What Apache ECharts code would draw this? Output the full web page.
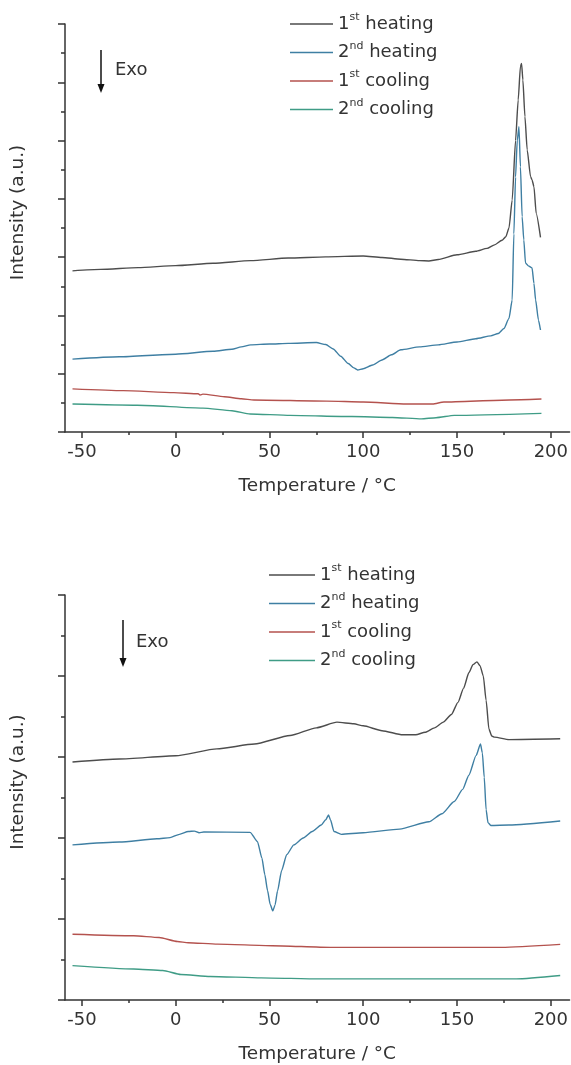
<!DOCTYPE html>
<html><head><meta charset="utf-8">
<script src="https://cdn.jsdelivr.net/npm/echarts@6/dist/echarts.min.js"></script>
<style>html,body{margin:0;padding:0;background:#fff}#c{width:571px;height:1065px}</style>
</head><body><div id="c"></div>
<script>
const seriesNames = ['1st heating', '2nd heating', '1st cooling', '2nd cooling'];
const seriesColors = ['#4d4d4d', '#3f7fa3', '#b4524e', '#3f9c86'];
const tempTicks = [-50, 0, 50, 100, 150, 200];
const tempMinorTicks = [-25, 25, 75, 125, 175];
const topMajorTicks = [0, 2, 4, 6, 8, 10, 12, 14];
const topMinorTicks = [1, 3, 5, 7, 9, 11, 13];
const bottomMajorTicks = [0, 2, 4, 6, 8, 10];
const bottomMinorTicks = [1, 3, 5, 7, 9];

// Top panel
const topHeat1 = [[-55,5.53],[-40,5.58],[-20,5.64],[0,5.71],[20,5.79],[40,5.88],[60,5.97],[80,6.01],[100,6.04],[110,5.99],[120,5.93],[130,5.88],[135,5.87],[140,5.92],[150,6.08],[160,6.2],[166,6.3],[170,6.42],[174,6.58],[176,6.7],[177.7,7.0],[179.4,7.96],[181.2,10.0],[182.6,11.39],[183.8,12.54],[184.4,12.65],[185.1,12.08],[186.2,10.82],[187.4,9.68],[189.2,8.76],[190,8.65],[191,8.42],[192.2,7.5],[194.5,6.68]];
const topHeat2 = [[-55,2.5],[-30,2.58],[0,2.67],[20,2.77],[30,2.84],[35,2.92],[40,2.99],[50,3.02],[60,3.04],[75,3.07],[80,3.0],[84,2.85],[88,2.6],[92,2.35],[95,2.2],[97,2.13],[100,2.17],[105,2.3],[110,2.47],[115,2.65],[120,2.82],[130,2.92],[140,2.99],[150,3.09],[160,3.2],[168,3.3],[172,3.38],[175,3.55],[177.7,3.9],[179.4,4.53],[180.3,6.8],[181.2,8.75],[182.1,10.0],[183,10.48],[183.8,9.1],[184.7,7.39],[185.6,6.59],[186.5,5.8],[188,5.7],[190,5.63],[191,5.1],[191.9,4.53],[193.4,3.84],[194.5,3.5]];
const topCool1 = [[-55,1.48],[-28,1.42],[-1,1.35],[12,1.31],[13,1.27],[14.5,1.3],[26,1.21],[35,1.14],[41.7,1.1],[80.5,1.06],[100,1.03],[123,0.96],[137,0.96],[143,1.03],[178,1.1],[195,1.13]];
const topCool2 = [[-55,0.96],[-20.5,0.92],[14.5,0.82],[30,0.73],[39.7,0.62],[61,0.57],[94,0.53],[115.5,0.5],[131,0.45],[138.8,0.49],[148.5,0.57],[195,0.64]];

// Bottom panel
const botHeat1 = [[-55,5.875],[-30,5.95],[0,6.03],[22,6.2],[42,6.32],[61,6.53],[75,6.72],[86,6.86],[95,6.82],[100,6.77],[110,6.65],[121,6.55],[128,6.55],[133,6.61],[138,6.72],[142.7,6.86],[147,7.05],[150.5,7.35],[153.5,7.7],[156.3,8.08],[158.5,8.28],[160.6,8.35],[162.3,8.25],[164,8.0],[165.5,7.4],[167,6.69],[168.5,6.52],[170,6.49],[177.7,6.43],[205,6.45]];
const botHeat2 = [[-55,3.83],[-30,3.9],[-10,3.98],[-3,4.01],[2,4.09],[6.7,4.16],[10,4.17],[12.5,4.13],[15,4.15],[39.7,4.14],[43.6,3.91],[46,3.5],[47.5,3.1],[49,2.7],[50.4,2.36],[51.8,2.2],[53,2.35],[54.3,2.69],[56.5,3.2],[59.2,3.59],[63,3.83],[68,4.0],[72.8,4.16],[77.6,4.32],[80,4.45],[81.5,4.57],[82.5,4.45],[84.4,4.16],[88.3,4.09],[100,4.13],[119.4,4.22],[135,4.4],[142,4.6],[148.5,4.9],[153,5.2],[156.3,5.55],[160.2,6.04],[162.5,6.32],[163.5,6.1],[164.5,5.5],[165.5,4.7],[166.5,4.38],[168,4.31],[177.7,4.32],[205,4.42]];
const botCool1 = [[-55,1.625],[-22.4,1.586],[-8.8,1.544],[0.9,1.446],[6.7,1.414],[22.3,1.38],[51.4,1.341],[82.5,1.299],[173.8,1.299],[205,1.373]];
const botCool2 = [[-55,0.85],[-22.4,0.767],[-6.9,0.728],[2.8,0.63],[18.4,0.581],[45.6,0.547],[76.7,0.522],[181.6,0.522],[205,0.605]];

const FONT = 'DejaVu Sans';
const TXT = '#333';
const AX = { color: '#333', width: 1.5 };

function xAxes(g) {
  return [
    { type: 'value', gridIndex: g, min: -59, max: 210, position: 'bottom',
      axisLine: { show: true, onZero: false, lineStyle: AX },
      axisTick: { show: true, customValues: tempTicks, length: 6, lineStyle: AX },
      axisLabel: { show: true, customValues: tempTicks, margin: 11, fontSize: 18, fontFamily: FONT, color: TXT },
      splitLine: { show: false },
      name: 'Temperature / °C', nameLocation: 'middle', nameGap: 45,
      nameTextStyle: { fontSize: 18.5, fontFamily: FONT, color: TXT } },
    { type: 'value', gridIndex: g, min: -59, max: 210, position: 'bottom',
      axisLine: { show: false, onZero: false },
      axisTick: { show: true, customValues: tempMinorTicks, length: 3, lineStyle: AX },
      axisLabel: { show: false }, splitLine: { show: false } }
  ];
}
function yAxes(g, max, major, minor) {
  return [
    { type: 'value', gridIndex: g, min: 0, max: max, position: 'left',
      axisLine: { show: true, onZero: false, lineStyle: AX },
      axisTick: { show: true, customValues: major, length: 7, lineStyle: AX },
      axisLabel: { show: false }, splitLine: { show: false },
      name: 'Intensity (a.u.)', nameLocation: 'middle', nameGap: 37, nameRotate: 90,
      nameTextStyle: { fontSize: 18.5, fontFamily: FONT, color: TXT, padding: [0, 0, 0, 31] } },
    { type: 'value', gridIndex: g, min: 0, max: max, position: 'left',
      axisLine: { show: false, onZero: false },
      axisTick: { show: true, customValues: minor, length: 4, lineStyle: AX },
      axisLabel: { show: false }, splitLine: { show: false } }
  ];
}
function mk(i, data, g) {
  return { type: 'line', name: seriesNames[i], data: data, xAxisIndex: g * 2, yAxisIndex: g * 2,
    showSymbol: false, symbol: 'none', smooth: 0.2, smoothMonotone: 'x', silent: true,
    lineStyle: { color: seriesColors[i], width: 1.4 }, itemStyle: { color: seriesColors[i] } };
}
function legend(left, top, w) {
  return { data: seriesNames, orient: 'vertical', left: left, top: top, padding: 0,
    itemWidth: w, itemHeight: 1.5, icon: 'rect', itemGap: 4.5, selectedMode: false,
    formatter: n => n.replace(/^(\d+)(st|nd|rd|th)/, '$1{s|$2}'),
    textStyle: { fontSize: 18, fontFamily: FONT, color: TXT, lineHeight: 24,
      rich: { s: { fontSize: 11, fontFamily: FONT, color: TXT, verticalAlign: 'top', lineHeight: 10 } } } };
}

const chart = echarts.init(document.getElementById('c'), null, { renderer: 'canvas' });
chart.setOption({
  animation: false,
  backgroundColor: '#fff',
  grid: [
    { left: 65, top: 24, width: 506, height: 408 },
    { left: 65, top: 595, width: 506, height: 408 }
  ],
  xAxis: xAxes(0).concat(xAxes(1)),
  yAxis: yAxes(0, 14, topMajorTicks, topMinorTicks).concat(yAxes(1, 10, bottomMajorTicks, bottomMinorTicks)),
  legend: [legend(290, 12, 43), legend(269, 563, 46)],
  series: [
    mk(0, topHeat1, 0), mk(1, topHeat2, 0), mk(2, topCool1, 0), mk(3, topCool2, 0),
    mk(0, botHeat1, 1), mk(1, botHeat2, 1), mk(2, botCool1, 1), mk(3, botCool2, 1)
  ],
  graphic: [
    { type: 'line', shape: { x1: 101, y1: 50, x2: 101, y2: 86 }, style: { stroke: '#111', lineWidth: 1.5 } },
    { type: 'polygon', shape: { points: [[97.5, 84], [104.5, 84], [101, 93]] }, style: { fill: '#111' } },
    { type: 'text', x: 115, y: 70, style: { text: 'Exo', fontSize: 18, fontFamily: FONT, fill: TXT, verticalAlign: 'middle' } },
    { type: 'line', shape: { x1: 123, y1: 620, x2: 123, y2: 660 }, style: { stroke: '#111', lineWidth: 1.5 } },
    { type: 'polygon', shape: { points: [[119.5, 658], [126.5, 658], [123, 667]] }, style: { fill: '#111' } },
    { type: 'text', x: 136, y: 642, style: { text: 'Exo', fontSize: 18, fontFamily: FONT, fill: TXT, verticalAlign: 'middle' } }
  ]
});
</script>
</body></html>
